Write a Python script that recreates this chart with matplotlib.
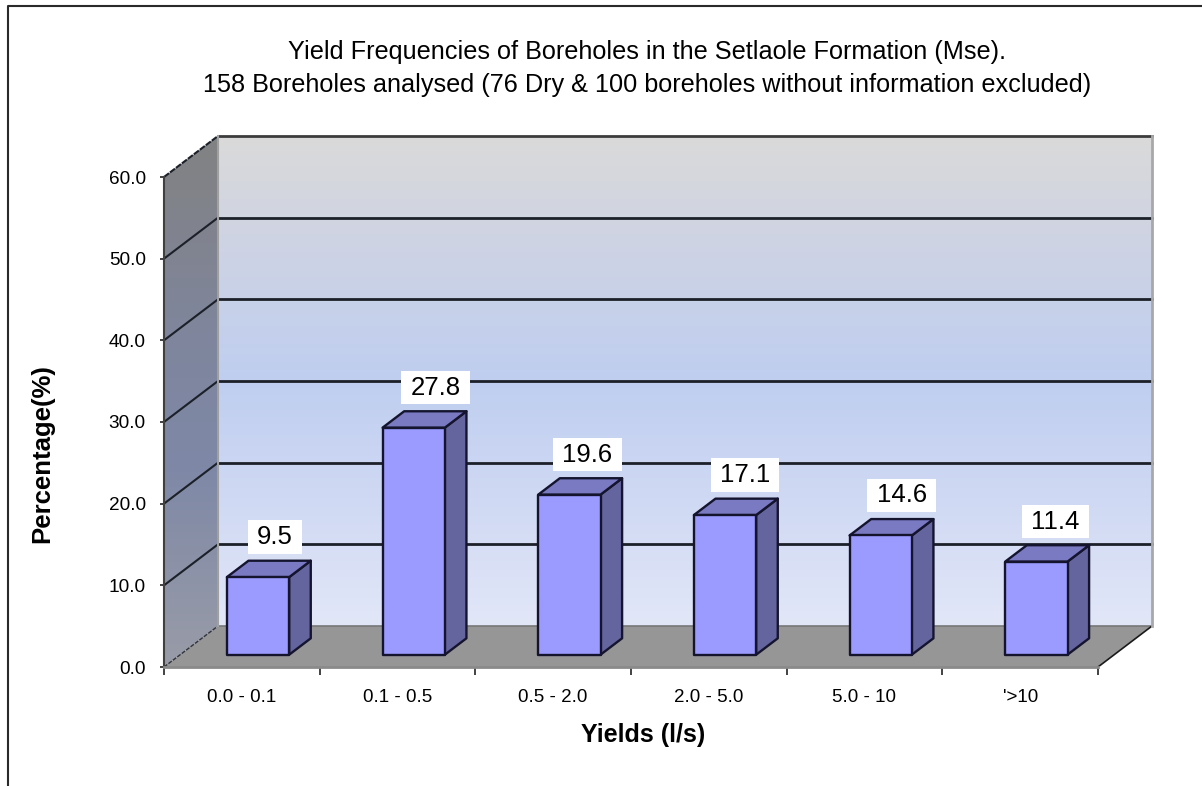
import numpy as np
import matplotlib
matplotlib.use("Agg")
import matplotlib.pyplot as plt
from matplotlib.colors import LinearSegmentedColormap
from matplotlib.lines import Line2D
from matplotlib.patches import Polygon
from matplotlib.path import Path

plt.rcParams['font.family'] = ['Liberation Sans', 'DejaVu Sans']

categories = ['0.0 - 0.1', '0.1 - 0.5', '0.5 - 2.0', '2.0 - 5.0', '5.0 - 10', "'>10"]
values = [9.5, 27.8, 19.6, 17.1, 14.6, 11.4]
y_ticks = [0, 10, 20, 30, 40, 50, 60]
title = ("Yield Frequencies of Boreholes in the Setlaole Formation (Mse).\n"
         "158 Boreholes analysed (76 Dry & 100 boreholes without information excluded)")

# horizontal nudge of each value label, in pixels from the bar's front centre
label_nudge = [17, 22, 18, 20, 21, 19]

W, H = 1202, 786
fig = plt.figure(figsize=(W / 100, H / 100), dpi=100, facecolor='white')
L, R, T, B = 164, 1098, 177, 667
ax = fig.add_axes([L / W, 1 - B / H, (R - L) / W, (B - T) / H])
ax.set_xlim(0, len(categories))
ax.set_ylim(0, 60)
ax.patch.set_visible(False)

PX = (R - L) / len(categories)
PY = (B - T) / 60
DX, DY = 54 / PX, 41 / PY


def proj(x, y, d=0.0):
    return (x + d * DX, y + d * DY)


def poly(points, **kw):
    p = Polygon(points, closed=True, clip_on=False, **kw)
    ax.add_patch(p)
    return p


def label_box(x0, y0, width, height, mutation_size):
    # wider side padding than top padding, as in the white value boxes
    px, py = 0.36 * mutation_size, 0.18 * mutation_size
    x0, x1 = x0 - px, x0 + width + px
    y0, y1 = y0 - py, y0 + height + py
    return Path([(x0, y0), (x1, y0), (x1, y1), (x0, y1), (x0, y0)], closed=True)


n = len(categories)
ymax = y_ticks[-1]
back_cmap = LinearSegmentedColormap.from_list('back', [
    (0.00, '#dadada'), (0.18, '#d0d4e2'), (0.50, '#bfcef0'),
    (0.72, '#ced8f3'), (1.00, '#e2e7f8')])
side_cmap = LinearSegmentedColormap.from_list('side', [
    (0.00, '#828282'), (0.40, '#7f869e'), (0.62, '#7e88a6'), (1.00, '#999ca8')])
grad = np.linspace(0, 1, 256).reshape(-1, 1)

x0b, y0b = proj(0, 0, 1)
x1b, y1b = proj(n, ymax, 1)
wall = poly([(x0b, y0b), (x1b, y0b), (x1b, y1b), (x0b, y1b)], facecolor='none', edgecolor='none')
im = ax.imshow(grad, cmap=back_cmap, extent=(x0b, x1b, y0b, y1b), aspect='auto', zorder=1, vmin=0, vmax=1)
im.set_clip_box(fig.bbox)
im.set_clip_path(wall)

side = poly([proj(0, 0), proj(0, ymax), proj(0, ymax, 1), proj(0, 0, 1)], facecolor='none', edgecolor='none')
im2 = ax.imshow(grad, cmap=side_cmap, extent=(0, x0b, 0, y1b), aspect='auto', zorder=1, vmin=0, vmax=1)
im2.set_clip_box(fig.bbox)
im2.set_clip_path(side)
ax.set_xlim(0, n)
ax.set_ylim(0, 60)

poly([proj(0, 0), proj(n, 0), proj(n, 0, 1), proj(0, 0, 1)], facecolor='#969696', edgecolor='none', zorder=2)

line_col = '#1c2029'
for v in y_ticks[1:]:
    a, b, c = proj(0, v), proj(0, v, 1), proj(n, v, 1)
    ls = '-' if v < ymax else (0, (3, 0.6))
    ax.plot([a[0], b[0]], [a[1], b[1]], color=line_col, lw=1.5, ls=ls, clip_on=False, zorder=2)
    ax.plot([b[0], c[0]], [b[1], c[1]], color=line_col if v < ymax else '#3c3c3c', lw=2.0, clip_on=False, zorder=2)
a, b, c, d = proj(0, 0), proj(0, 0, 1), proj(n, 0), proj(n, 0, 1)
ax.plot([a[0], b[0]], [a[1], b[1]], color='#30343c', lw=1.0, ls=(0, (3, 1)), clip_on=False, zorder=2)
ax.plot([b[0], d[0]], [b[1], d[1]], color='#777777', lw=1.2, clip_on=False, zorder=2)
ax.plot([c[0], d[0]], [c[1], d[1]], color='#1a1a1a', lw=1.2, clip_on=False, zorder=2)
e = proj(n, ymax, 1)
ax.plot([d[0], e[0]], [d[1], e[1]], color='#a8a8a8', lw=2.0, clip_on=False, zorder=2)
ax.plot([b[0], b[0]], [b[1], e[1]], color='#a0a0a0', lw=1.5, clip_on=False, zorder=2)

bar_w = 0.4
d0, d1 = 0.30, 0.70
edge = '#14142e'
for i, v in enumerate(values):
    xl, xr = i + 0.5 - bar_w / 2, i + 0.5 + bar_w / 2
    kw = dict(edgecolor=edge, linewidth=1.7, joinstyle='round', zorder=3)
    poly([proj(xr, 0, d0), proj(xr, v, d0), proj(xr, v, d1), proj(xr, 0, d1)], facecolor='#64649f', **kw)
    poly([proj(xl, v, d0), proj(xr, v, d0), proj(xr, v, d1), proj(xl, v, d1)], facecolor='#7a7ac3', **kw)
    poly([proj(xl, 0, d0), proj(xr, 0, d0), proj(xr, v, d0), proj(xl, v, d0)], facecolor='#9b9bff', **kw)
    lx, ly = proj(i + 0.5, v, d0)
    ax.annotate(f'{v:.1f}', xy=(lx, ly), xytext=(label_nudge[i] * 0.72, 40 * 0.72), textcoords='offset points',
                ha='center', va='center', fontsize=18.5, color='black', zorder=5, annotation_clip=False,
                bbox=dict(boxstyle=label_box, facecolor='white', edgecolor='none'))

for s in ('top', 'right'):
    ax.spines[s].set_visible(False)
ax.spines['left'].set_color('#404040')
ax.spines['left'].set_linewidth(1.5)
ax.spines['bottom'].set_color('#8a8a8a')
ax.spines['bottom'].set_linewidth(2.0)
ax.spines['left'].set_zorder(4)
ax.spines['bottom'].set_zorder(4)

ax.set_yticks(y_ticks)
ax.set_yticklabels([f'{v:.1f}' for v in y_ticks], fontsize=13.7)
ax.set_xticks(np.arange(n + 1))
ax.set_xticklabels([''] * (n + 1))
ax.tick_params(axis='y', length=3, width=1.2, color='#222222', pad=10)
ax.tick_params(axis='x', length=6, width=1.2, color='#222222')
for i, c_ in enumerate(categories):
    ax.annotate(c_, xy=(i + 0.5, 0), xytext=(0, -30 * 0.72), textcoords='offset points',
                ha='center', va='center', fontsize=13.5, annotation_clip=False)

fig.text(647 / W, 1 - 68.5 / H, title, ha='center', va='center', fontsize=18.2, linespacing=1.5)
fig.text(643 / W, 1 - 735 / H, 'Yields (l/s)', ha='center', va='center', fontsize=18, fontweight='bold')
fig.text(42 / W, 1 - 454 / H, 'Percentage(%)', ha='center', va='center', rotation=90, fontsize=18.5, fontweight='bold')

fig.add_artist(Line2D([7.5 / W, 7.5 / W, 1], [0, 1 - 6 / H, 1 - 6 / H], color='#2a2a2a', lw=1.5,
                      transform=fig.transFigure))
fig.savefig('out.png', dpi=100)
